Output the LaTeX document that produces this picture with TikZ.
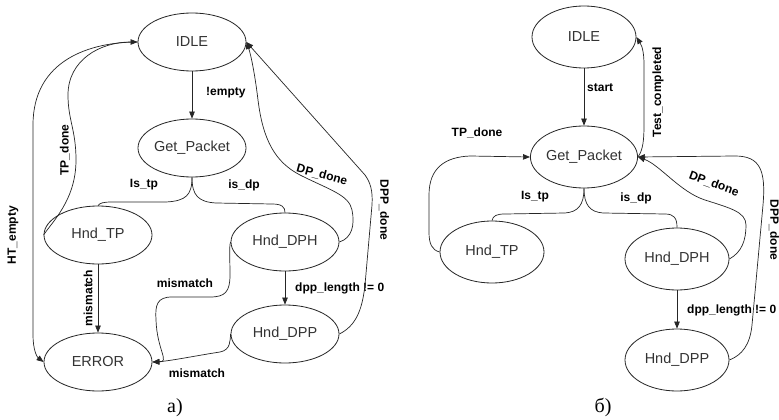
\documentclass[tikz,border=0pt]{standalone}
\usepackage{fontspec}
\setmainfont{Liberation Sans}
\newfontfamily\capfont{Liberation Serif}
\usetikzlibrary{shapes.geometric,arrows.meta}

\begin{document}
\begin{tikzpicture}[x=1pt,y=-1pt,
  state/.style={ellipse,draw=black!85,line width=0.8pt,inner sep=0pt,
    minimum width=108pt,minimum height=58pt,
    font=\fontsize{14.5}{16}\selectfont,text=black!80},
  stateb/.style={state,minimum width=104pt,minimum height=62pt},
  edge/.style={draw=black!85,line width=0.7pt},
  arr/.style={edge,-{Triangle[length=7pt,width=5.5pt]}},
  lbl/.style={font=\bfseries\fontsize{12}{14}\selectfont,inner sep=0pt},
  subcap/.style={font=\capfont\fontsize{20}{22}\selectfont,inner sep=0pt}]

\useasboundingbox (0,0) rectangle (779,420);
\fill[white] (0,0) rectangle (779,420);

% ---------------- left automaton ----------------
\node[state] (idleA) at (192,42)  {IDLE};
\node[state] (getA)  at (192,148) {Get\_Packet};
\node[state] (tpA)   at (98,235)  {Hnd\_TP};
\node[state] (dphA)  at (285,242) {Hnd\_DPH};
\node[state] (dppA)  at (285,334) {Hnd\_DPP};
\node[state] (errA)  at (98,362)  {ERROR};

\draw[arr] (idleA.south) -- (getA.north);
\node[lbl,anchor=west] (lEmpty) at (206,93) {!empty};

% branches out of Get_Packet
\draw[edge] (getA.south) .. controls (192,195) and (186,201) .. (166,202)
  -- (112,202) .. controls (103,202) and (100,203) .. (tpA.north);
\draw[edge] (getA.south) .. controls (192,195) and (198,202) .. (216,203)
  -- (272,204) .. controls (282,204) and (285,207) .. (dphA.north);
\node[lbl] (lIstpA) at (144,185) {Is\_tp};
\node[lbl] (lIsdpA) at (244,185) {is\_dp};

% back to IDLE
\draw[arr] (tpA.west) .. controls (52,222) and (76,200) .. (76,160)
  .. controls (76,130) and (68,120) .. (68,95)
  .. controls (68,60) and (100,42) .. (idleA.west);
\node[lbl,rotate=90] (lTPA) at (65,150) {TP\_done};

\draw[arr] (idleA.west) .. controls (90,42) and (33,60) .. (33,125)
  -- (33,335) .. controls (33,350) and (37,357) .. (errA.west);
\node[lbl,rotate=90] (lHT) at (13,235) {HT\_empty};

\draw[arr] (tpA.south) -- (errA.north);
\node[lbl,rotate=90] (lMisTP) at (88,298) {mismatch};

\draw[arr] (dphA.west) .. controls (229,246) and (230,260) .. (230,275)
  .. controls (230,292) and (225,297) .. (210,297) -- (172,297)
  .. controls (157,297) and (155,305) .. (156,320)
  .. controls (157,350) and (170,362) .. (errA.east);
\node[lbl] (lMisDPH) at (185,283) {mismatch};

\draw[arr] (dppA.west) .. controls (230,340) and (231,350) .. (220,352)
  .. controls (200,355) and (170,361) .. (errA.east);
\node[lbl] (lMisDPP) at (197,373) {mismatch};

\draw[arr] (dphA.south) -- (dppA.north);
\node[lbl,anchor=west] (lLenA) at (295,288) {dpp\_length != 0};

\draw[arr] (dphA.east) .. controls (352,238) and (355,225) .. (352,210)
  .. controls (349,195) and (330,190) .. (300,175)
  .. controls (275,162) and (263,140) .. (258,100)
  .. controls (255,75) and (251,55) .. (idleA.east);
\node[lbl,rotate=-15] (lDPA) at (322,175) {DP\_done};

\draw[arr] (dppA.east) .. controls (355,326) and (362,312) .. (365,285)
  -- (372,205) .. controls (373,190) and (370,182) .. (365,175)
  -- (idleA.east);
\node[lbl,rotate=-90] (lDPPA) at (384,210) {DPP\_done};

\node[subcap] (capA) at (175,408) {a)};

% ---------------- right automaton ----------------
\node[stateb] (idleB) at (584,37)  {IDLE};
\node[stateb] (getB)  at (584,157) {Get\_Packet};
\node[stateb] (tpB)   at (492,252) {Hnd\_TP};
\node[stateb] (dphB)  at (677,259) {Hnd\_DPH};
\node[stateb] (dppB)  at (677,360) {Hnd\_DPP};

\draw[arr] (idleB.south) -- (getB.north);
\node[lbl,anchor=west] (lStart) at (587,88) {start};

\draw[arr] (getB.east) .. controls (643,150) and (644,140) .. (644,125)
  -- (644,65) .. controls (644,52) and (642,46) .. (idleB.east);
\node[lbl,rotate=90] (lTest) at (658,92) {Test\_completed};

\draw[edge] (getB.south) .. controls (584,205) and (578,212) .. (565,213)
  -- (505,214) .. controls (496,214) and (493,216) .. (tpB.north);
\draw[edge] (getB.south) .. controls (584,205) and (590,212) .. (603,213)
  -- (665,214) .. controls (674,214) and (677,218) .. (dphB.north);
\node[lbl] (lIstpB) at (535,197) {Is\_tp};
\node[lbl] (lIsdpB) at (636,198) {is\_dp};

\draw[arr] (tpB.west) .. controls (432,250) and (429,244) .. (429,232)
  -- (429,195) .. controls (429,168) and (445,157) .. (470,156)
  -- (getB.west);
\node[lbl] (lTPB) at (477,133) {TP\_done};

\draw[arr] (dphB.east) .. controls (742,252) and (746,240) .. (746,225)
  .. controls (746,212) and (730,208) .. (705,200)
  .. controls (680,192) and (660,165) .. (getB.east);
\node[lbl,rotate=-20] (lDPB) at (714,184) {DP\_done};

\draw[arr] (dppB.east) .. controls (742,355) and (750,345) .. (752,325)
  -- (763,205) .. controls (766,170) and (760,156) .. (735,156)
  -- (getB.east);
\node[lbl,rotate=-90] (lDPPB) at (774,230) {DPP\_done};

\draw[arr] (dphB.south) -- (dppB.north);
\node[lbl,anchor=west] (lLenB) at (687,310) {dpp\_length != 0};

\node[subcap] (capB) at (603,407) {б)};
\end{tikzpicture}
\end{document}
